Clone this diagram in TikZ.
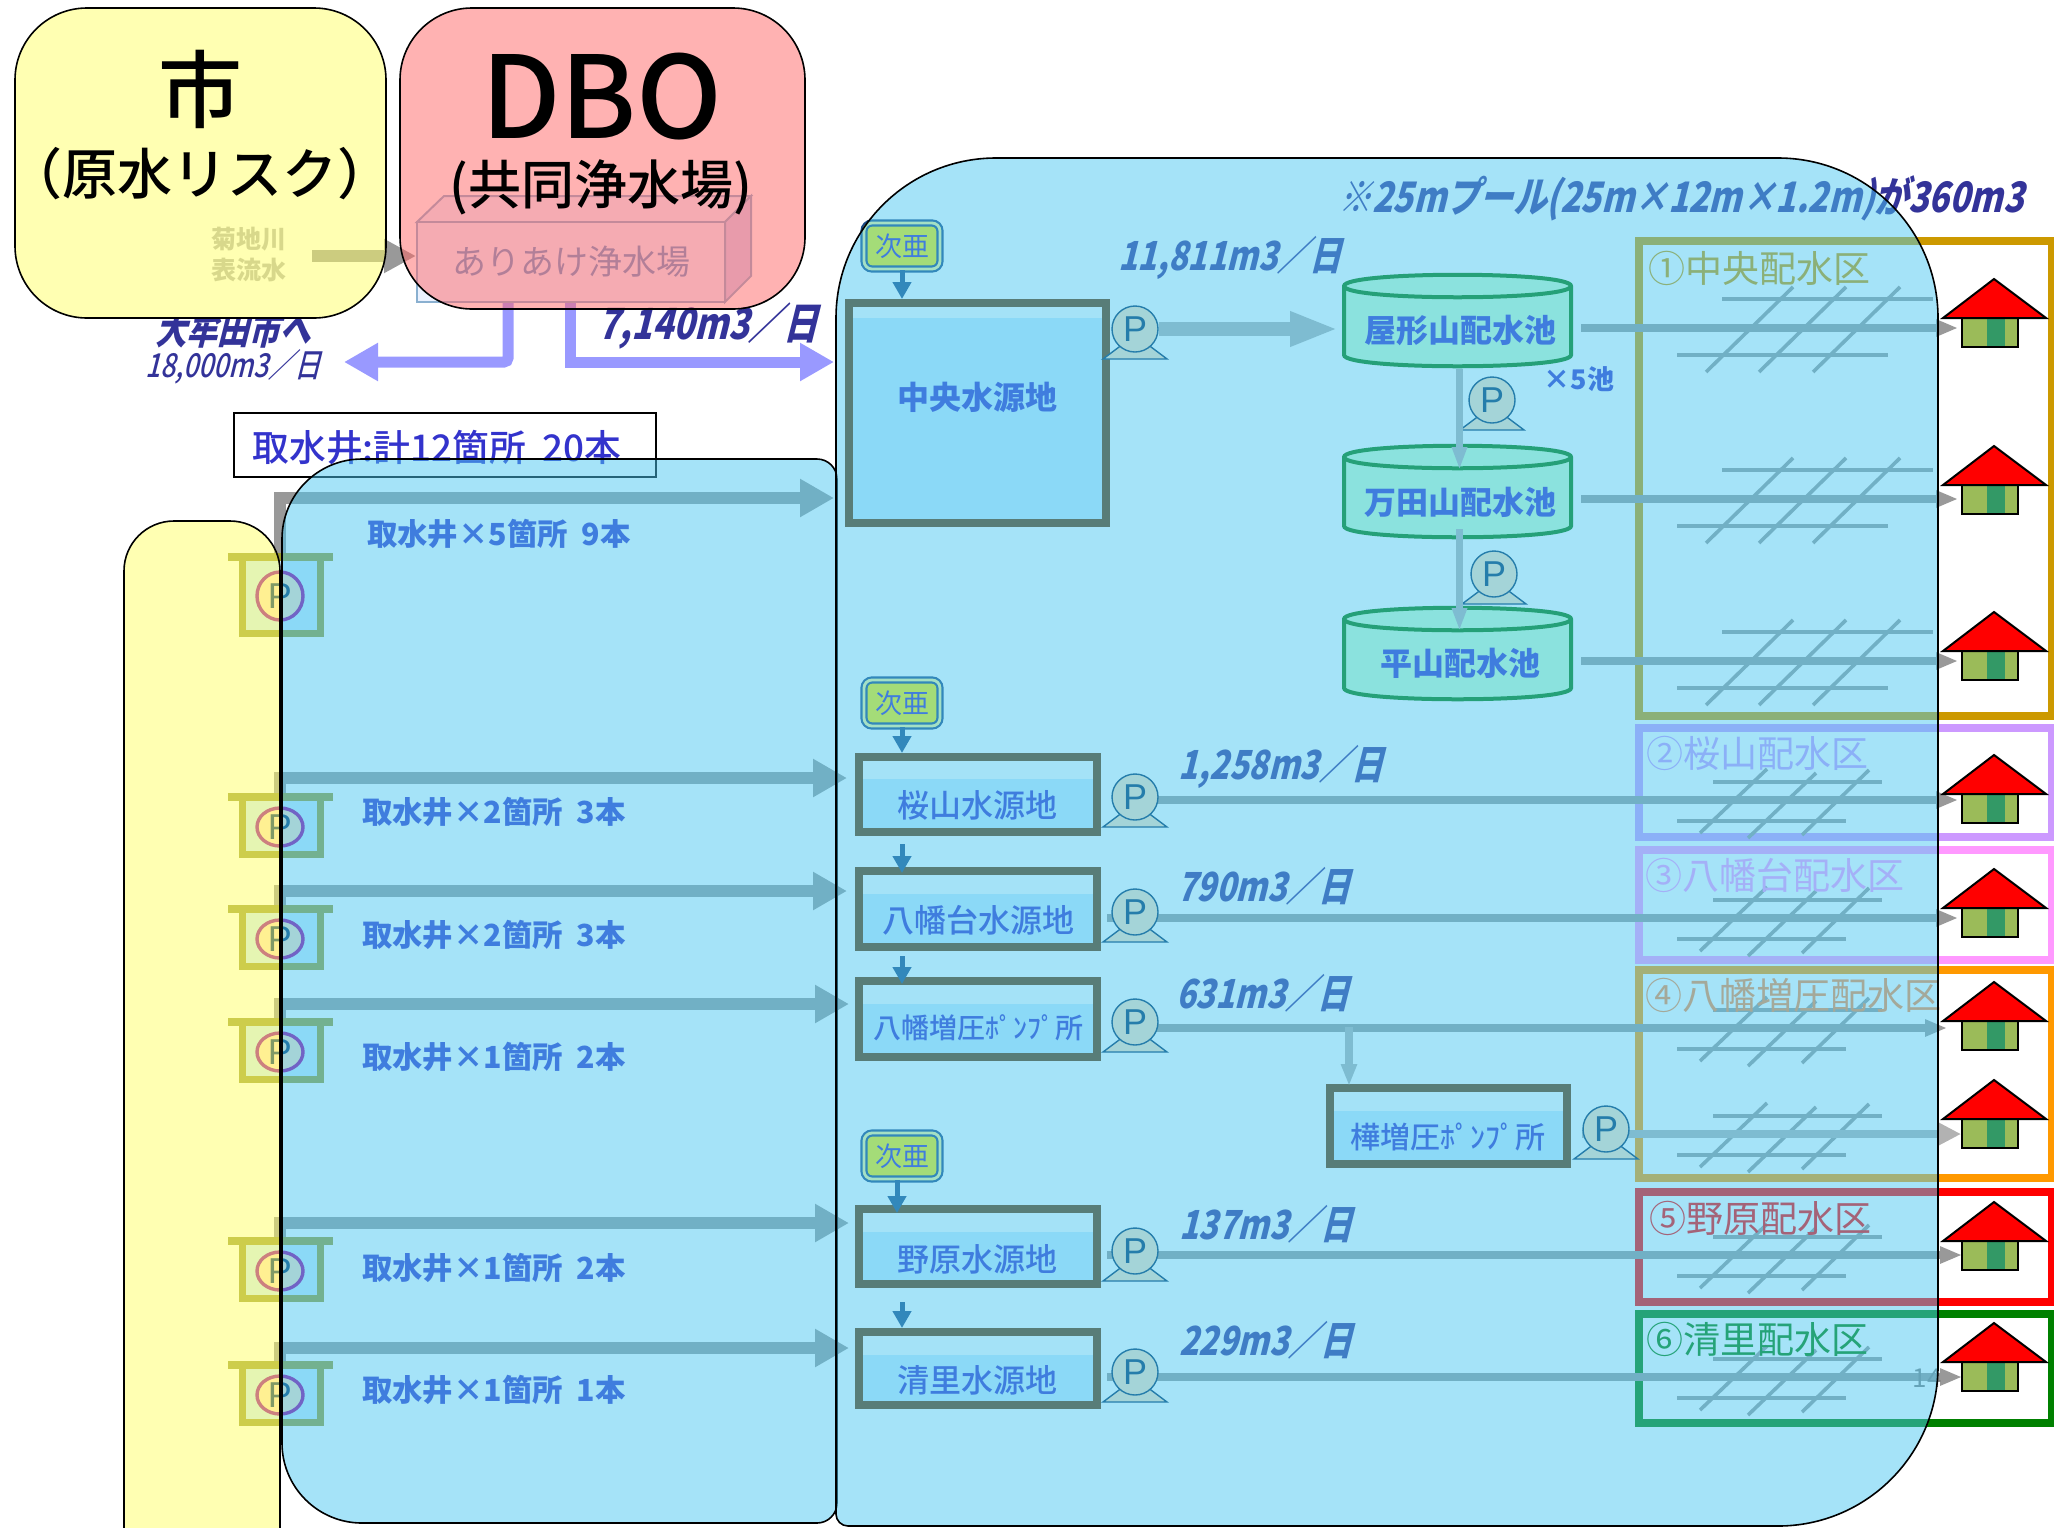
\documentclass[tikz,border=0pt]{standalone}
\usepackage{fontspec}
\setmainfont{Noto Sans CJK JP}
\newfontfamily\medfont{Noto Sans CJK JP Medium}
\newfontfamily\flowfont[FakeSlant=.25,FakeStretch=.8]{Noto Sans CJK JP}
\newfontfamily\flowthin[FakeSlant=.25,FakeStretch=.8]{Noto Sans CJK JP Medium}
\newfontfamily\plainP{Liberation Sans}
\usetikzlibrary{arrows.meta,shapes.geometric,positioning}
\pgfdeclarelayer{zones}
\pgfdeclarelayer{pipes}
\pgfsetlayers{zones,pipes,main}
\newcommand{\fsz}[1]{\fontsize{#1}{#1}\selectfont}
\definecolor{cityYellow}{HTML}{FFFF66}
\definecolor{dboPink}{HTML}{FF6666}
\definecolor{waterBlue}{HTML}{4BC7F1}
\definecolor{inkBlue}{HTML}{3333CC}
\definecolor{inkNavy}{HTML}{333399}
\definecolor{pondWall}{HTML}{663300}
\definecolor{pondWater}{HTML}{CCECFF}
\definecolor{tankFill}{HTML}{CCFFCC}
\definecolor{tankEdge}{HTML}{007A00}
\definecolor{pumpFill}{HTML}{FFE2C0}
\definecolor{pumpEdge}{HTML}{003366}
\definecolor{wellEdge}{HTML}{9C9C30}
\definecolor{wellRing}{HTML}{990099}
\definecolor{doseEdge}{HTML}{1A4A85}
\definecolor{purpleFlow}{HTML}{9999FF}
\definecolor{plantEdge}{HTML}{8AB0D0}
\definecolor{plantFace}{HTML}{EBF2FF}
\definecolor{plantSide}{HTML}{D1D2F2}
\definecolor{plantInk}{HTML}{6699CC}
\definecolor{zoneOne}{HTML}{CC9900}
\definecolor{zoneTwo}{HTML}{CC99FF}
\definecolor{zoneThree}{HTML}{FF99FF}
\definecolor{zoneFour}{HTML}{FF9900}
\definecolor{zoneFourInk}{HTML}{FF8C44}
\definecolor{zoneFive}{HTML}{FF0000}
\definecolor{zoneSix}{HTML}{008000}
\definecolor{houseWall}{HTML}{9BBB59}
\definecolor{houseDoor}{HTML}{339966}
\tikzset{
  panel/.style={draw=black,line width=.8pt,fill opacity=.5,draw opacity=1},
  pipe/.style={draw=black!40,line width=4pt,-{Triangle[length=11pt,width=8pt]}},
  lightpipe/.style={draw=black!30,line width=4pt,-{Triangle[length=11.5pt,width=11pt]}},
  intake/.style={draw=black!40,line width=6pt,-{Triangle[length=17pt,width=18pt]}},
  lift/.style={draw=black!30,line width=3.6pt,-{Triangle[length=11pt,width=7.5pt]}},
  purple/.style={draw=purpleFlow,line width=5.5pt,-{Triangle[length=17pt,width=18pt]}},
  dose/.style={draw=doseEdge,line width=2.5pt,-{Triangle[length=8.5pt,width=9pt]}},
  pond/.style={draw=pondWall,line width=4pt,fill=white,inner sep=0pt},
  water/.style={fill=pondWater},
  plantbox/.style={draw=plantEdge,line width=1pt,fill=plantFace,minimum width=154pt,minimum height=40pt,inner sep=0pt},
  tankwall/.style={draw=tankEdge,line width=2pt,fill=tankFill},
  tankspot/.style={minimum width=113.5pt,minimum height=45.5pt,inner sep=0pt,outer sep=0pt},
  tanklabel/.style={text=inkBlue,font=\fsz{16}\bfseries},
  pumpc/.style={ellipse,draw=pumpEdge,line width=.7pt,fill=pumpFill,minimum width=23pt,minimum height=23pt,
    inner sep=0pt,text=pumpEdge,font=\plainP\fsz{18}},
  pumpbase/.style={draw=pumpEdge,line width=.7pt,fill=pumpFill},
  wellc/.style={ellipse,draw=wellRing,line width=1.7pt,fill=pumpFill,minimum width=23pt,inner sep=0pt,
    text=pumpEdge,font=\plainP\fsz{18}},
  wellbox/.style={draw=wellEdge,line width=3.5pt,fill=pondWater},
  welllip/.style={draw=wellEdge,line width=4pt},
  zonebox/.style={line width=4pt},
  gridline/.style={draw=black!40,line width=1.8pt},
  dosebox/.style={rounded corners=4pt,draw=doseEdge,line width=1.1pt,double=yellow!40,double distance=1.4pt,fill=yellow,
    minimum width=38pt,minimum height=23pt,inner sep=0pt,text=inkBlue,font=\fsz{13.5}},
  flowlabel/.style={text=inkNavy,font=\flowfont\fsz{20}\bfseries},
  sitelabel/.style={text=inkBlue,font=\medfont\fsz{16}},
  welllabel/.style={text=inkBlue,font=\fsz{15.2}\bfseries},
  zonelabel/.style={font=\fsz{18.5}},
}
\begin{document}
\begin{tikzpicture}[x=.5pt,y=-.5pt]
\useasboundingbox (0,0) rectangle (2054,1527);
% what the city panel hides
\path (233,330) node[text=inkNavy,font=\flowfont\fsz{19.5}\bfseries] (toOmuta) {大牟田市へ};
\fill[white] (15,8) [rounded corners=36pt] rectangle (386,318);
\path (233,367) node[text=inkNavy,font=\flowthin\fsz{16.5}] (omutaVol) {18,000m3／日};
% treatment plant
\draw[fill=plantFace,draw=plantEdge,line width=1pt] (417,222) -- (444,196) -- (751,196) -- (725,222) -- cycle;
\draw[fill=plantSide,draw=plantEdge,line width=1pt] (725,222) -- (751,196) -- (751,276) -- (725,302) -- cycle;
\path (571,262) node[plantbox,text=plantInk,font=\fsz{17}] (plantFront) {ありあけ浄水場};
\path (249,239) node[text=black!30,font=\fsz{12.5}\bfseries] (riverA) {菊地川};
\path (249,270) node[text=black!30,font=\fsz{12.5}\bfseries] (riverB) {表流水};
\coordinate (riverStart) at (312,256);
\draw[draw=black!40,line width=6pt,-{Triangle[length=16pt,width=16pt]}] (riverStart) -- (plantFront.west |- riverStart);
\coordinate (omutaEnd) at (344,362);
\coordinate (plantEnd) at (834,362);
\draw[purple,rounded corners=2pt] ([xshift=-31.5pt]plantFront.south) -- ([xshift=-31.5pt]plantFront.south |- omutaEnd) -- (omutaEnd);
\draw[purple] ([xshift=-.5pt]plantFront.south) -- ([xshift=-.5pt]plantFront.south |- plantEnd) -- (plantEnd);
\path (708,326) node[text=inkNavy,font=\flowfont\fsz{21.5}\bfseries] (plantVol) {7,140m3／日};
\path (445,445) node[draw,line width=.7pt,minimum width=211pt,minimum height=32pt,inner sep=0pt] (wellTotalBox) {};
\path (437,448) node[text=inkBlue,font=\medfont\fsz{18.4}] (wellTotal) {取水井:計12箇所\ \ 20本};
\path (1681,198) node[text=inkNavy,font=\flowfont\fsz{21}\bfseries] (poolNote) {※25mプール(25m×12m×1.2m)が360m3};
% source stations
\foreach \name/\top/\wat/\bot/\xa/\xb in {pondChuo/299/318/527/845/1110,pondSakura/753/779/836/855/1101,pondHachi/867/894/951/855/1101,pondHachiP/977/1004/1061/855/1101,pondNohara/1205/1232/1288/855/1101,pondKiyo/1328/1355/1409/855/1101,pondKaba/1084/1111/1168/1326/1571}{
  \pgfmathsetmacro{\pw}{(\xb-\xa)/2-4}
  \pgfmathsetmacro{\ph}{(\bot-\top)/2-4}
  \path ({(\xa+\xb)/2},{(\top+\bot)/2}) node[pond,minimum width=\pw pt,minimum height=\ph pt] (\name) {};
  \fill[water] (\xa+8,\wat) rectangle (\xb-8,\bot-8);
}
\path (977,397) node[sitelabel,font=\fsz{16}\bfseries] (siteChuo) {中央水源地};
\path (977,805) node[sitelabel] (siteSakura) {桜山水源地};
\path (978,920) node[sitelabel] (siteHachi) {八幡台水源地};
\path (978,1028) node[sitelabel,font=\medfont\fsz{14}] (siteHachiP) {八幡増圧ﾎﾟﾝﾌﾟ所};
\path (1448,1137) node[sitelabel,font=\medfont\fsz{15}] (siteKaba) {樺増圧ﾎﾟﾝﾌﾟ所};
\path (977,1259) node[sitelabel] (siteNohara) {野原水源地};
\path (977,1380) node[sitelabel] (siteKiyo) {清里水源地};
% hypochlorite
\path (902,246) node[dosebox] (doseA) {次亜};
\path (902,703) node[dosebox] (doseB) {次亜};
\path (902,1156) node[dosebox] (doseC) {次亜};
\draw[dose] (doseA.south) -- (doseA.south |- pondChuo.north);
\draw[dose] (doseB.south) -- (doseB.south |- pondSakura.north);
\draw[dose] ([yshift=-4pt]doseB |- pondSakura.south) -- ([yshift=-3pt]doseB |- pondHachi.north);
\draw[dose] ([yshift=-2.5pt]doseB |- pondHachi.south) -- ([yshift=-3.5pt]doseB |- pondHachiP.north);
\draw[dose] ([xshift=-2.5pt]doseC.south) -- ([xshift=-2.5pt,yshift=-4pt]doseC.south |- pondNohara.north);
\draw[dose] ([yshift=-7pt]doseB |- pondNohara.south) -- ([yshift=0pt]doseB |- pondKiyo.north);
% reservoirs
\foreach \name/\ty/\by in {tankYakata/275/366,tankManda/446/537,tankHira/608/699}{
  \draw[tankwall] (1344,\ty+11) .. controls (1344,\ty-4) and (1571,\ty-4) .. (1571,\ty+11) -- (1571,\by-11) .. controls (1571,\by+4) and (1344,\by+4) .. (1344,\by-11) -- cycle;
  \draw[tankwall,fill=none] (1344,\ty+11) .. controls (1344,\ty+26) and (1571,\ty+26) .. (1571,\ty+11);
  \path (1457.5,{(\ty+\by)/2}) node[tankspot] (\name) {};
}
\path (1460,330) node[tanklabel] (nameYakata) {屋形山配水池};
\path (1460,502) node[tanklabel] (nameManda) {万田山配水池};
\path (1460,663) node[tanklabel] (nameHira) {平山配水池};
\path (1579,379) node[text=inkBlue,font=\fsz{13.5}\bfseries] (tankCount) {×5池};
% pumps
\foreach \name/\cx/\cy in {pumpChuo/1135/329,pumpManda/1492/400,pumpHira/1494/574,pumpSakura/1135/797,pumpHachi/1135/912,pumpHachiP/1135/1022,pumpKaba/1606/1129,pumpNohara/1135/1251,pumpKiyo/1135/1372}{
  \draw[pumpbase] (\cx-32,\cy+30) -- (\cx,\cy+6) -- (\cx+32,\cy+30) -- cycle;
  \path (\cx,\cy) node[pumpc] (\name) {P};
}
% pipes to the districts
\begin{pgfonlayer}{pipes}
  \coordinate (endA) at (1958,328);
  \coordinate (endB) at (1958,499);
  \coordinate (endC) at (1958,661);
  \coordinate (endD) at (1958,800);
  \coordinate (endE) at (1958,918);
  \coordinate (endF) at (1947,1028);
  \coordinate (endG) at (1961,1134);
  \coordinate (endH) at (1962,1255);
  \coordinate (endI) at (1962,1377);
  \draw[pipe] (tankYakata.east |- endA) ++(10,0) -- (endA);
  \draw[pipe] (tankManda.east |- endB) ++(10,0) -- (endB);
  \draw[pipe] (tankHira.east |- endC) ++(10,0) -- (endC);
  \draw[pipe] (pumpSakura |- endD) -- (endD);
  \draw[pipe] (pumpHachi.west |- endE) ++(-4,0) -- (endE);
  \draw[pipe] (pumpHachiP |- endF) -- (endF);
  \draw[lightpipe] (pumpKaba.west |- endG) -- (endG);
  \draw[pipe] (pumpNohara.west |- endH) ++(-4,0) -- (endH);
  \draw[pipe] (pumpKiyo.west |- endI) ++(-4,0) -- (endI);
\end{pgfonlayer}
\coordinate (kabaBranch) at (1349,1027);
\draw[lift] (kabaBranch) -- ([yshift=-1pt]kabaBranch |- pondKaba.north);
\draw[lift,-{Triangle[length=11.5pt,width=7pt]}] ([shift={(1pt,-1.5pt)}]tankYakata.south) -- ([shift={(1pt,-12pt)}]tankManda.north);
\draw[lift,-{Triangle[length=11.5pt,width=7pt]}] ([shift={(1pt,4pt)}]tankManda.south) -- ([shift={(1pt,-11.5pt)}]tankHira.north);
\draw[draw=black!30,line width=7pt,-{Triangle[length=24pt,width=16pt]}] (pumpChuo.east) -- ([xshift=-3pt]tankYakata.west |- pumpChuo);
\path (1230,258) node[flowlabel] (volChuo) {11,811m3／日};
\path (1281,767) node[flowlabel] (volSakura) {1,258m3／日};
\path (1264,886) node[flowlabel] (volHachi) {790m3／日};
\path (1263,993) node[flowlabel] (volHachiP) {631m3／日};
\path (1266,1224) node[flowlabel] (volNohara) {137m3／日};
\path (1266,1340) node[flowlabel] (volKiyo) {229m3／日};
\path (1927,1378) node[text=black!50,font=\fsz{13}] (pageNum) {14};
% wells
\coordinate (inA) at (834,498);
\coordinate (inB) at (847,778);
\coordinate (inC) at (847,891);
\coordinate (inD) at (849,1004);
\coordinate (inE) at (849,1223);
\coordinate (inF) at (849,1348);
\foreach \name/\lip/\cy/\low/\wid in {wellA/557/596/637/24,wellB/797/827/858/19,wellC/909/939/970/19,wellD/1022/1052/1083/19,wellE/1241/1271/1302/19,wellF/1365/1395/1426/19}{
  \draw[wellbox] (242,\lip) -- (242,\low-4) -- (320,\low-4) -- (320,\lip);
  \draw[welllip] (228,\lip) -- (333,\lip);
  \path (280,\cy) node[wellc,minimum height=\wid pt] (\name) {P};
}
\begin{pgfonlayer}{pipes}
  \foreach \name/\inn in {wellA/inA,wellB/inB,wellC/inC,wellD/inD,wellE/inE,wellF/inF}{
    \draw[intake] (\name.north) -- (\name.north |- \inn) -- (\inn);
  }
\end{pgfonlayer}
\path (499,534) node[welllabel] (labelA) {取水井×5箇所\ \ 9本};
\path (494,812) node[welllabel] (labelB) {取水井×2箇所\ \ 3本};
\path (494,935) node[welllabel] (labelC) {取水井×2箇所\ \ 3本};
\path (494,1057) node[welllabel] (labelD) {取水井×1箇所\ \ 2本};
\path (494,1268) node[welllabel] (labelE) {取水井×1箇所\ \ 2本};
\path (494,1390) node[welllabel] (labelF) {取水井×1箇所\ \ 1本};
% districts
\begin{pgfonlayer}{zones}
  \draw[zonebox,draw=zoneOne] (1639,241) rectangle (2052,716);
  \draw[zonebox,draw=zoneTwo] (1639,728) rectangle (2052,837);
  \draw[zonebox,draw=zoneThree] (1639,850) rectangle (2052,960);
  \draw[zonebox,draw=zoneFour] (1639,970) rectangle (2052,1178);
  \draw[zonebox,draw=zoneFive] (1639,1192) rectangle (2052,1302);
  \draw[zonebox,draw=zoneSix] (1639,1314) rectangle (2052,1423);
  \foreach \gy in {328,499,661}{
    \draw[gridline] (1722,\gy-29) -- (1933,\gy-29);
    \draw[gridline] (1677,\gy+27) -- (1888,\gy+27);
    \foreach \gx in {0,53,107}
      \draw[gridline] (1706+\gx,\gy+44) -- (1793+\gx,\gy-41);
  }
  \foreach \gy in {800,918,1028,1134,1255,1377}{
    \draw[gridline] (1713,\gy-18) -- (1882,\gy-18);
    \draw[gridline] (1677,\gy+21) -- (1846,\gy+21);
    \draw[gridline] (1700,\gy+33) -- (1767,\gy-31);
    \draw[gridline] (1748,\gy+38) -- (1816,\gy-27);
    \draw[gridline] (1802,\gy+35) -- (1869,\gy-30);
  }
\end{pgfonlayer}
\path (1759,268) node[zonelabel,text=zoneOne] (zoneA) {①中央配水区};
\path (1757,753) node[zonelabel,text=zoneTwo] (zoneB) {②桜山配水区};
\path (1775,875) node[zonelabel,text=zoneThree] (zoneC) {③八幡台配水区};
\path (1793,995) node[zonelabel,text=zoneFourInk] (zoneD) {④八幡増圧配水区};
\path (1760,1218) node[zonelabel,text=zoneFive] (zoneE) {⑤野原配水区};
\path (1757,1339) node[zonelabel,text=zoneSix] (zoneF) {⑥清里配水区};
% translucent panels
\draw[panel,fill=cityYellow] (15,8) [rounded corners=36pt] rectangle (386,318);
\draw[panel,fill=dboPink] (400,8) [rounded corners=36pt] rectangle (805,309);
\draw[panel,fill=cityYellow] (124,900) [rounded corners=25pt] -- (124,521) -- (280,521) -- (280,1600) -- (124,1600) -- cycle;
\draw[panel,fill=waterBlue] (282,900) [rounded corners=40pt] -- (282,459) -- (600,459) [rounded corners=10pt] -- (837,459) -- (837,1523) -- (600,1523) [rounded corners=40pt] -- (282,1523) -- cycle;
\draw[panel,fill=waterBlue] (836,900) [rounded corners=80pt] -- (836,158) -- (1938,158) -- (1938,1526) -- (1200,1526) [rounded corners=6pt] -- (836,1526) -- cycle;
% houses
\foreach \hy in {279,446,612,755,869,982,1080,1202,1323}{
  \draw[fill=houseWall,line width=1pt] (1962,\hy+39) rectangle (2018,\hy+68);
  \fill[houseDoor] (1987,\hy+40) rectangle (2005,\hy+67);
  \draw[fill=red,line width=1pt] (1943,\hy+39) -- (1994,\hy) -- (2046,\hy+39) -- cycle;
}
% titles
\path (200,89) node[font=\medfont\fsz{42}] (titleCity) {市};
\path (200,174) node[font=\medfont\fsz{27.5}] (titleRisk) {（原水リスク）};
\path (602,97) node[font=\medfont\fsz{57}] (titleDbo) {DBO};
\path (601,187) node[font=\medfont\fsz{26.5}] (titlePlant) {(共同浄水場)};
\end{tikzpicture}
\end{document}
